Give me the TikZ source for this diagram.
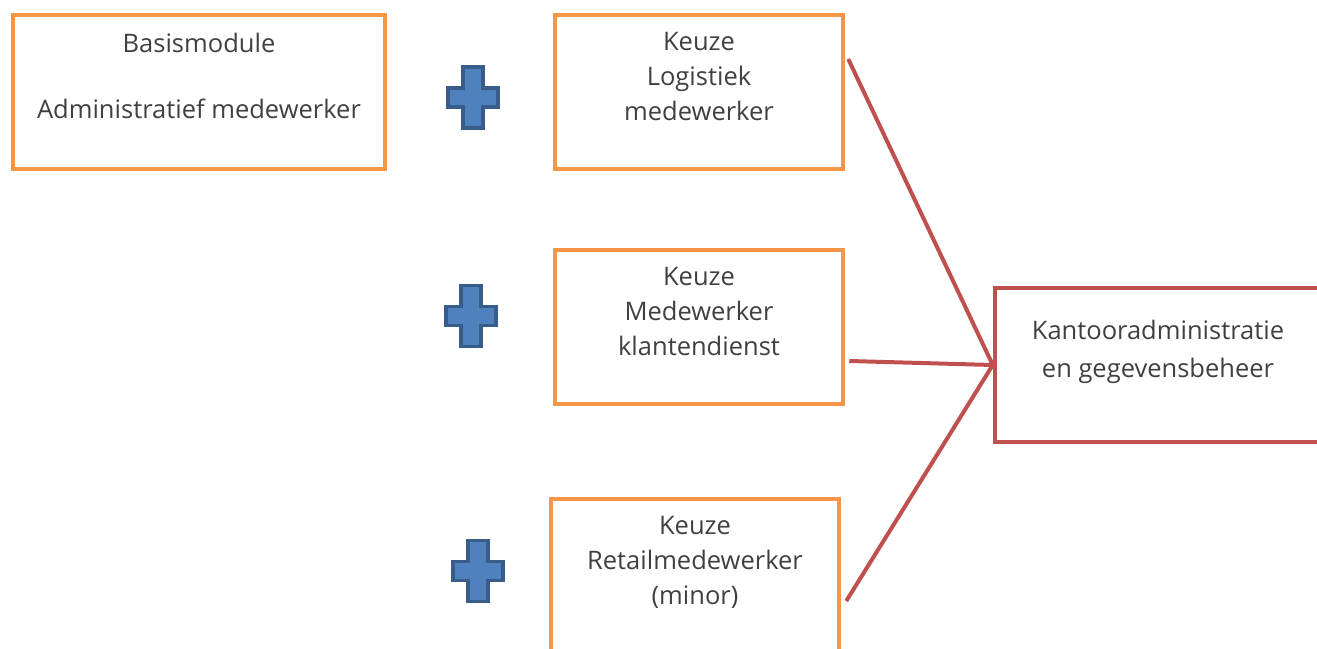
\documentclass[tikz,border=0pt]{standalone}
\usepackage{fontspec}
\setmainfont{Open Sans}
\usepackage{xcolor}
\usetikzlibrary{positioning}
\definecolor{keuzeoranje}{HTML}{F79646}
\definecolor{doelrood}{HTML}{C0504D}
\definecolor{plusblauw}{HTML}{4F81BD}
\definecolor{plusrand}{HTML}{385D8A}
\definecolor{tekstgrijs}{HTML}{404040}
\tikzset{
	module/.style={draw=keuzeoranje,line width=4.5pt,minimum width=288pt,minimum height=154pt,
		align=center,text=tekstgrijs,font=\fontsize{25.5}{35}\selectfont,text depth=32pt},
	doel/.style={module,draw=doelrood,minimum width=326pt,font=\fontsize{25.5}{38}\selectfont},
	verbinding/.style={draw=doelrood,line width=4pt},
	plusje/.style={fill=plusblauw,draw=plusrand,line width=3.5pt,line join=miter}
}

\begin{document}
\begin{tikzpicture}[x=1pt,y=-1pt]
	\useasboundingbox (0,0) rectangle (1317,648);
	\clip (0,0) rectangle (1317,648);
	\node[module,minimum width=372pt] (basis) at (199,92) {Basismodule\\[31pt]Administratief medewerker};
	\node[module] (logistiek) at (699,92) {Keuze\\Logistiek\\medewerker};
	\node[module] (klant) at (699,327) {Keuze\\Medewerker\\klantendienst};
	\node[module] (retail) at (695,576) {Keuze\\Retailmedewerker\\(minor)};
	\node[doel] (kantoor) at (1158,365) {Kantooradministratie\\en gegevensbeheer};
	\foreach \px/\py in {473/97.5,471/316,478/571}
		\draw[plusje,shift={(\px,\py)}] (-10,-30.5) -- (10,-30.5) -- (10,-9.5) -- (25,-9.5) -- (25,9.5)
			-- (10,9.5) -- (10,30.5) -- (-10,30.5) -- (-10,9.5) -- (-25,9.5) -- (-25,-9.5) -- (-10,-9.5) -- cycle;
	\draw[verbinding] ([xshift=3pt,yshift=33pt]logistiek.east) -- (kantoor.west);
	\draw[verbinding] ([xshift=4pt,yshift=-34pt]klant.east) -- (kantoor.west);
	\draw[verbinding] ([xshift=5pt,yshift=-25pt]retail.east) -- (kantoor.west);
\end{tikzpicture}
\end{document}
